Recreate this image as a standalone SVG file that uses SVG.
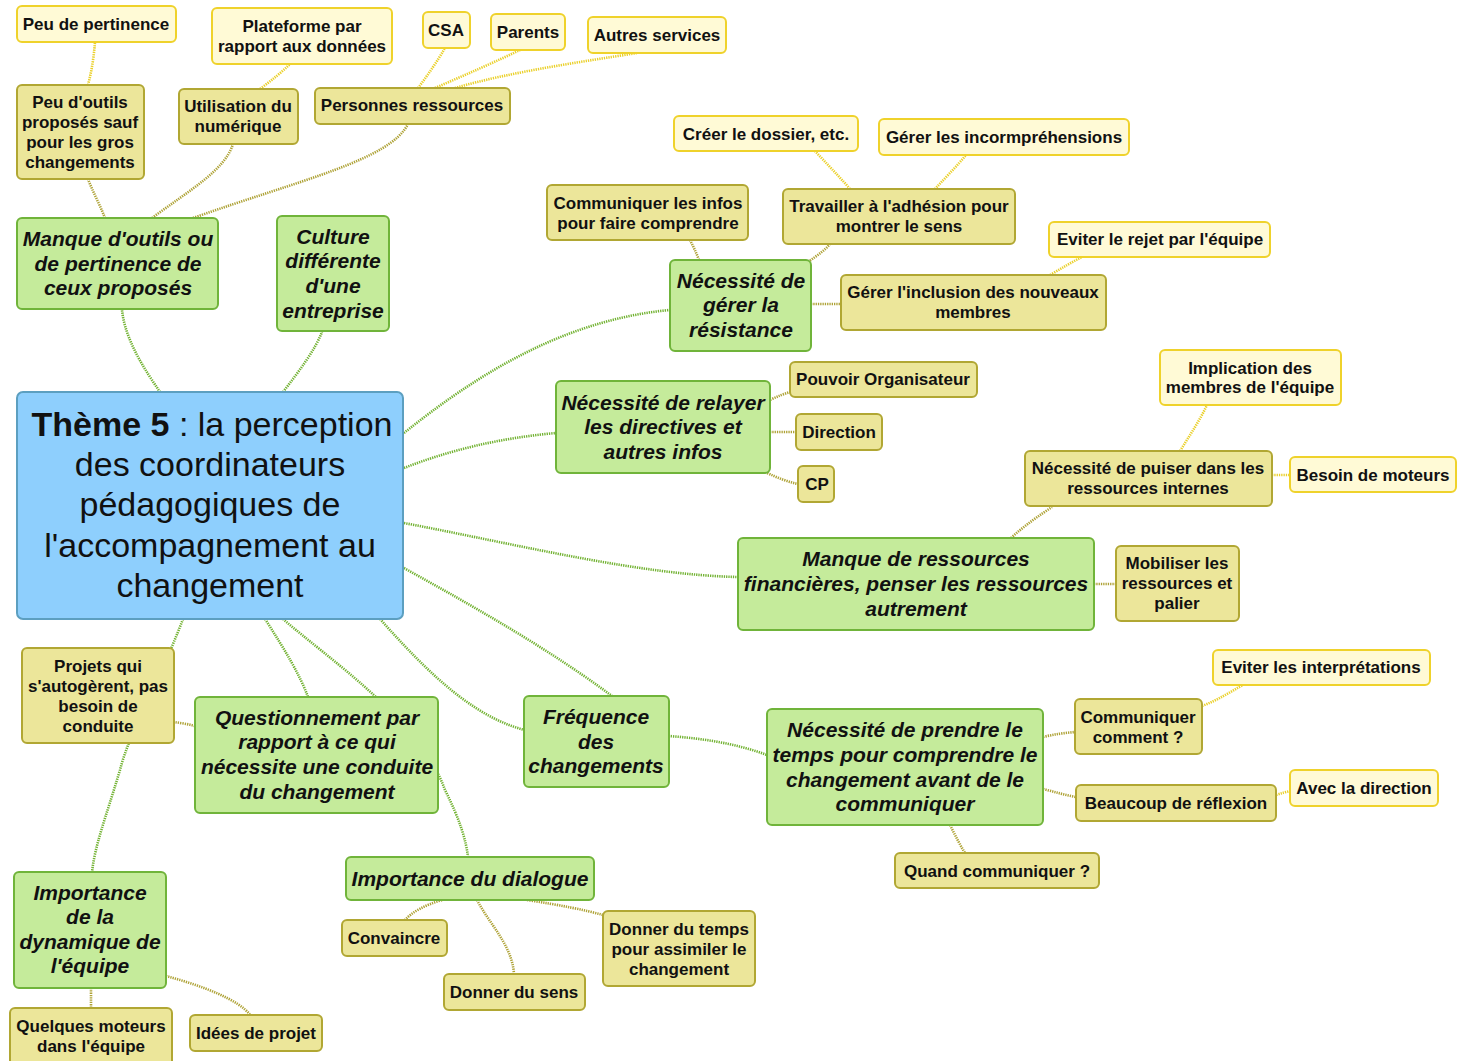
<svg xmlns="http://www.w3.org/2000/svg" width="1465" height="1061" viewBox="0 0 1465 1061">
<style>
text{font-family:"Liberation Sans",Arial,sans-serif;text-anchor:middle;fill:#111}
.r rect{fill:#8ecffd;stroke:#5c9fc0;stroke-width:2}
.r text{font-size:34px}
.g rect{fill:#c5eb9b;stroke:#70b43a;stroke-width:2}
.g text{font-size:21px;font-weight:bold;font-style:italic}
.k rect{fill:#ece69a;stroke:#b1a733;stroke-width:2}
.k text{font-size:17px;font-weight:bold}
.y rect{fill:#fffad6;stroke:#efd22b;stroke-width:2}
.y text{font-size:17px;font-weight:bold}
#connectors path{fill:none;stroke-width:2.6;stroke-dasharray:1.3 1}
.cg{stroke:#72b232}
.co{stroke:#aea236}
.cy{stroke:#ead02a}
</style>
<rect width="1465" height="1061" fill="#fff"/>
<g id="connectors">
<path class="cg" d="M160,392 C145,370 125,340 122,310"/>
<path class="cg" d="M283,392 C300,370 315,350 322,332"/>
<path class="cg" d="M404,433 C470,380 560,320 670,310"/>
<path class="cg" d="M404,468 C450,450 500,438 556,433"/>
<path class="cg" d="M404,523 C520,545 640,575 738,577"/>
<path class="cg" d="M404,568 C480,610 550,650 612,696"/>
<path class="cg" d="M380,619 C430,675 480,725 540,733 C620,735 700,730 767,755"/>
<path class="cg" d="M265,619 C285,650 300,675 308,697"/>
<path class="cg" d="M283,619 C330,660 420,720 445,790 C460,820 466,840 468,857"/>
<path class="cg" d="M183,619 C160,680 130,730 120,770 C105,820 95,845 92,872"/>
<path class="co" d="M105,218 C100,205 92,190 88,179"/>
<path class="co" d="M152,218 C190,190 225,170 233,144"/>
<path class="co" d="M193,218 C300,180 390,160 408,124"/>
<path class="co" d="M699,260 C696,252 693,246 690,240"/>
<path class="co" d="M808,262 C818,255 825,250 830,244"/>
<path class="co" d="M811,304 L841,304"/>
<path class="co" d="M770,400 C778,396 784,394 790,392"/>
<path class="co" d="M770,432 L796,432"/>
<path class="co" d="M765,472 C778,478 788,482 798,484"/>
<path class="co" d="M1011,538 C1025,525 1040,515 1052,507"/>
<path class="co" d="M1094,584 L1116,584"/>
<path class="co" d="M1043,737 C1055,734 1065,733 1075,732"/>
<path class="co" d="M1043,789 C1055,792 1065,795 1076,797"/>
<path class="co" d="M950,825 C955,835 960,845 965,853"/>
<path class="co" d="M195,726 C188,724 180,723 174,722"/>
<path class="co" d="M442,900 C425,905 412,912 405,920"/>
<path class="co" d="M477,900 C490,925 512,945 514,974"/>
<path class="co" d="M527,900 C560,905 585,910 603,915"/>
<path class="co" d="M91,988 L91,1008"/>
<path class="co" d="M166,976 C200,985 240,1000 250,1015"/>
<path class="cy" d="M88,85 C92,70 94,55 95,42"/>
<path class="cy" d="M260,89 C272,80 282,72 290,64"/>
<path class="cy" d="M418,88 C428,75 438,60 445,48"/>
<path class="cy" d="M435,88 C465,75 495,62 520,50"/>
<path class="cy" d="M455,88 C510,72 580,62 637,53"/>
<path class="cy" d="M850,189 C838,175 825,162 815,151"/>
<path class="cy" d="M935,189 C945,178 958,165 966,155"/>
<path class="cy" d="M1050,275 C1062,268 1072,262 1082,257"/>
<path class="cy" d="M1180,451 C1190,435 1200,420 1207,405"/>
<path class="cy" d="M1272,475 L1290,475"/>
<path class="cy" d="M1202,706 C1218,700 1230,692 1243,685"/>
<path class="cy" d="M1276,795 C1282,793 1286,792 1290,791"/>
</g>

<g id="root" class="r"><rect x="17" y="392" width="386" height="227" rx="6"/>
<text x="212" y="436"><tspan font-weight="bold">Thème 5</tspan> : la perception</text>
<text x="210" y="476">des coordinateurs</text>
<text x="210" y="516">pédagogiques de</text>
<text x="210" y="557">l'accompagnement au</text>
<text x="210" y="597">changement</text></g>

<g id="n-manque-outils" class="g"><rect x="17" y="218" width="201" height="91" rx="5"/>
<text x="118" y="246">Manque d'outils ou</text><text x="118" y="271">de pertinence de</text><text x="118" y="295">ceux proposés</text></g>
<g id="n-culture" class="g"><rect x="277" y="216" width="112" height="115" rx="5"/>
<text x="333" y="244">Culture</text><text x="333" y="268">différente</text><text x="333" y="293">d'une</text><text x="333" y="318">entreprise</text></g>
<g id="n-resistance" class="g"><rect x="670" y="260" width="141" height="91" rx="5"/>
<text x="741" y="288">Nécessité de</text><text x="741" y="312">gérer la</text><text x="741" y="337">résistance</text></g>
<g id="n-relayer" class="g"><rect x="556" y="381" width="214" height="92" rx="5"/>
<text x="663" y="410">Nécessité de relayer</text><text x="663" y="434">les directives et</text><text x="663" y="459">autres infos</text></g>
<g id="n-ressources" class="g"><rect x="738" y="538" width="356" height="92" rx="5"/>
<text x="916" y="566">Manque de ressources</text><text x="916" y="591">financières, penser les ressources</text><text x="916" y="616">autrement</text></g>
<g id="n-frequence" class="g"><rect x="524" y="696" width="145" height="91" rx="5"/>
<text x="596" y="724">Fréquence</text><text x="596" y="749">des</text><text x="596" y="773">changements</text></g>
<g id="n-temps" class="g"><rect x="767" y="709" width="276" height="116" rx="5"/>
<text x="905" y="737">Nécessité de prendre le</text><text x="905" y="762">temps pour comprendre le</text><text x="905" y="787">changement avant de le</text><text x="905" y="811">communiquer</text></g>
<g id="n-questionnement" class="g"><rect x="195" y="697" width="243" height="116" rx="5"/>
<text x="317" y="725">Questionnement par</text><text x="317" y="749">rapport à ce qui</text><text x="317" y="774">nécessite une conduite</text><text x="317" y="799">du changement</text></g>
<g id="n-dialogue" class="g"><rect x="346" y="857" width="248" height="43" rx="5"/>
<text x="470" y="886">Importance du dialogue</text></g>
<g id="n-dynamique" class="g"><rect x="14" y="872" width="152" height="116" rx="5"/>
<text x="90" y="900">Importance</text><text x="90" y="924">de la</text><text x="90" y="949">dynamique de</text><text x="90" y="973">l'équipe</text></g>

<g id="n-peu-outils" class="k"><rect x="17" y="85" width="127" height="94" rx="5"/>
<text x="80" y="108">Peu d'outils</text><text x="80" y="128">proposés sauf</text><text x="80" y="148">pour les gros</text><text x="80" y="168">changements</text></g>
<g id="n-numerique" class="k"><rect x="179" y="89" width="119" height="55" rx="5"/>
<text x="238" y="112">Utilisation du</text><text x="238" y="132">numérique</text></g>
<g id="n-personnes" class="k"><rect x="315" y="88" width="195" height="36" rx="5"/>
<text x="412" y="111">Personnes ressources</text></g>
<g id="n-communiquer-infos" class="k"><rect x="547" y="185" width="201" height="55" rx="5"/>
<text x="648" y="209">Communiquer les infos</text><text x="648" y="229">pour faire comprendre</text></g>
<g id="n-adhesion" class="k"><rect x="783" y="189" width="232" height="55" rx="5"/>
<text x="899" y="212">Travailler à l'adhésion pour</text><text x="899" y="232">montrer le sens</text></g>
<g id="n-inclusion" class="k"><rect x="841" y="275" width="265" height="55" rx="5"/>
<text x="973" y="298">Gérer l'inclusion des nouveaux</text><text x="973" y="318">membres</text></g>
<g id="n-po" class="k"><rect x="790" y="362" width="187" height="35" rx="5"/>
<text x="883" y="385">Pouvoir Organisateur</text></g>
<g id="n-direction" class="k"><rect x="796" y="414" width="86" height="36" rx="5"/>
<text x="839" y="438">Direction</text></g>
<g id="n-cp" class="k"><rect x="798" y="466" width="36" height="36" rx="5"/>
<text x="817" y="490">CP</text></g>
<g id="n-puiser" class="k"><rect x="1025" y="451" width="247" height="55" rx="5"/>
<text x="1148" y="474">Nécessité de puiser dans les</text><text x="1148" y="494">ressources internes</text></g>
<g id="n-mobiliser" class="k"><rect x="1116" y="546" width="123" height="75" rx="5"/>
<text x="1177" y="569">Mobiliser les</text><text x="1177" y="589">ressources et</text><text x="1177" y="609">palier</text></g>
<g id="n-comment" class="k"><rect x="1075" y="699" width="127" height="55" rx="5"/>
<text x="1138" y="723">Communiquer</text><text x="1138" y="743">comment ?</text></g>
<g id="n-reflexion" class="k"><rect x="1076" y="785" width="200" height="36" rx="5"/>
<text x="1176" y="809">Beaucoup de réflexion</text></g>
<g id="n-quand" class="k"><rect x="895" y="853" width="204" height="35" rx="5"/>
<text x="997" y="877">Quand communiquer ?</text></g>
<g id="n-projets" class="k"><rect x="22" y="648" width="152" height="95" rx="5"/>
<text x="98" y="672">Projets qui</text><text x="98" y="692">s'autogèrent, pas</text><text x="98" y="712">besoin de</text><text x="98" y="732">conduite</text></g>
<g id="n-convaincre" class="k"><rect x="342" y="920" width="105" height="36" rx="5"/>
<text x="394" y="944">Convaincre</text></g>
<g id="n-sens" class="k"><rect x="444" y="974" width="141" height="36" rx="5"/>
<text x="514" y="998">Donner du sens</text></g>
<g id="n-donner-temps" class="k"><rect x="603" y="911" width="152" height="75" rx="5"/>
<text x="679" y="935">Donner du temps</text><text x="679" y="955">pour assimiler le</text><text x="679" y="975">changement</text></g>
<g id="n-moteurs-equipe" class="k"><rect x="10" y="1008" width="162" height="60" rx="5"/>
<text x="91" y="1032">Quelques moteurs</text><text x="91" y="1052">dans l'équipe</text></g>
<g id="n-idees" class="k"><rect x="190" y="1015" width="132" height="36" rx="5"/>
<text x="256" y="1039">Idées de projet</text></g>

<g id="n-pertinence" class="y"><rect x="17" y="6" width="159" height="36" rx="5"/>
<text x="96" y="30">Peu de pertinence</text></g>
<g id="n-plateforme" class="y"><rect x="212" y="8" width="180" height="56" rx="5"/>
<text x="302" y="32">Plateforme par</text><text x="302" y="52">rapport aux données</text></g>
<g id="n-csa" class="y"><rect x="423" y="12" width="47" height="36" rx="5"/>
<text x="446" y="36">CSA</text></g>
<g id="n-parents" class="y"><rect x="491" y="14" width="74" height="36" rx="5"/>
<text x="528" y="38">Parents</text></g>
<g id="n-autres" class="y"><rect x="588" y="17" width="138" height="36" rx="5"/>
<text x="657" y="41">Autres services</text></g>
<g id="n-creer" class="y"><rect x="674" y="116" width="184" height="35" rx="5"/>
<text x="766" y="140">Créer le dossier, etc.</text></g>
<g id="n-incomp" class="y"><rect x="879" y="119" width="250" height="36" rx="5"/>
<text x="1004" y="143">Gérer les incormpréhensions</text></g>
<g id="n-rejet" class="y"><rect x="1049" y="222" width="221" height="35" rx="5"/>
<text x="1160" y="245">Eviter le rejet par l'équipe</text></g>
<g id="n-implication" class="y"><rect x="1160" y="350" width="181" height="55" rx="5"/>
<text x="1250" y="374">Implication des</text><text x="1250" y="393">membres de l'équipe</text></g>
<g id="n-besoin" class="y"><rect x="1290" y="457" width="166" height="35" rx="5"/>
<text x="1373" y="481">Besoin de moteurs</text></g>
<g id="n-interpretations" class="y"><rect x="1213" y="650" width="217" height="35" rx="5"/>
<text x="1321" y="673">Eviter les interprétations</text></g>
<g id="n-avec-direction" class="y"><rect x="1290" y="770" width="148" height="36" rx="5"/>
<text x="1364" y="794">Avec la direction</text></g>
</svg>
